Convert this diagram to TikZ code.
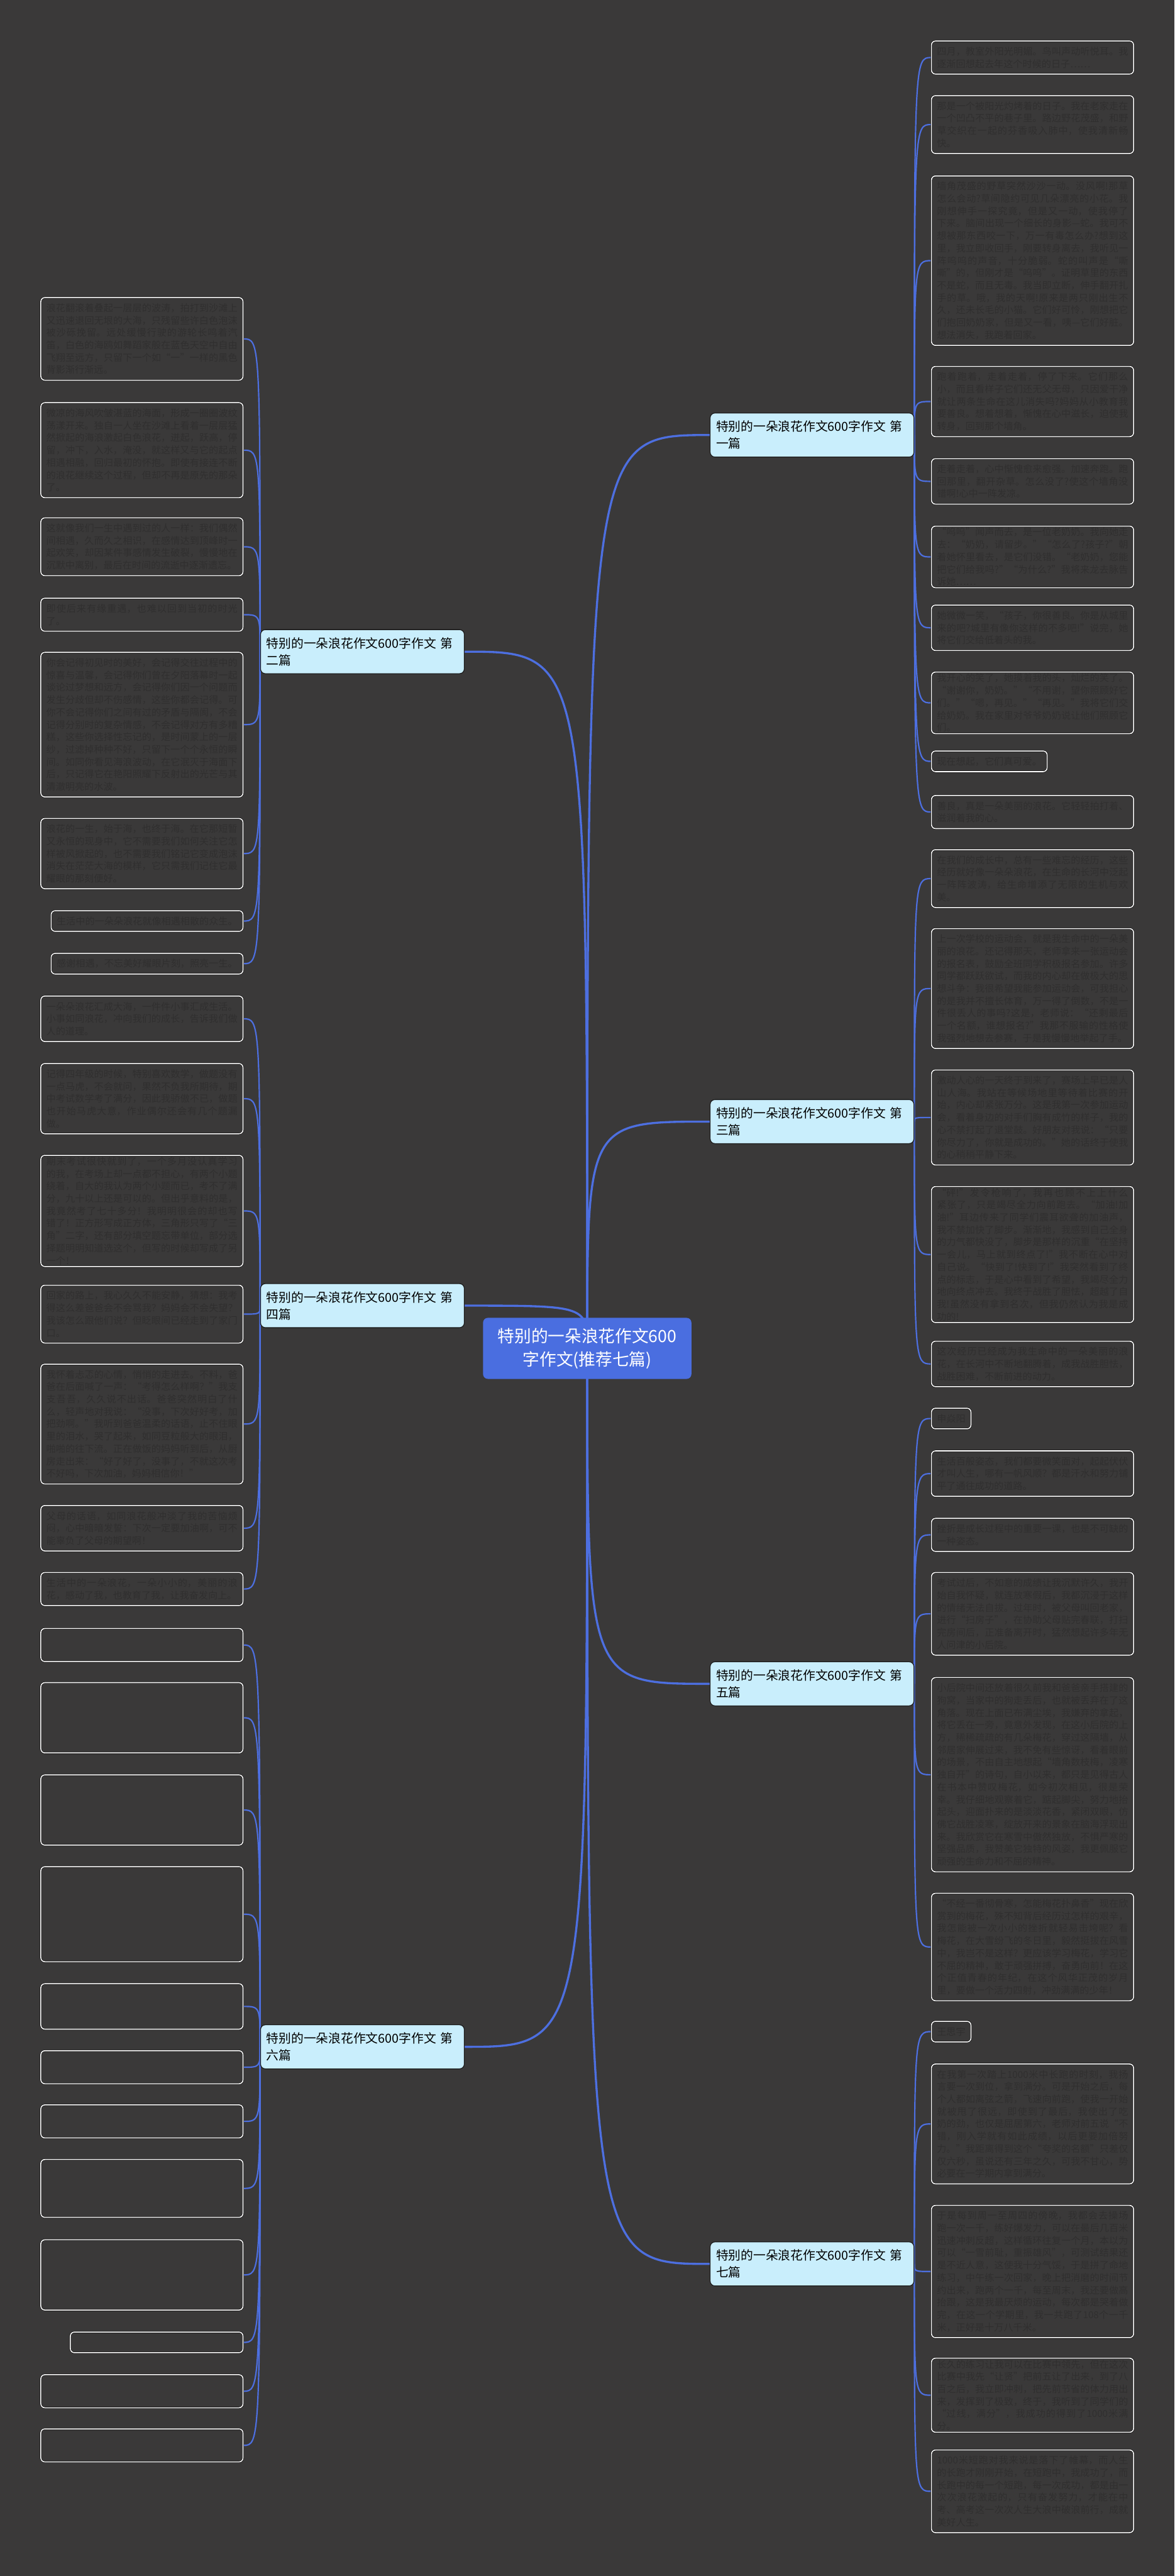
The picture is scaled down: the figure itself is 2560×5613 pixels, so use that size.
\documentclass[tikz,border=0pt]{standalone}
\usepackage{fontspec}
\setmainfont{Noto Sans CJK SC}
\XeTeXlinebreaklocale "zh"
\XeTeXlinebreakskip = 0pt plus 1pt
\usetikzlibrary{backgrounds}
\definecolor{bgDark}{HTML}{3A3939}
\definecolor{rootBlue}{HTML}{4A6EE0}
\definecolor{linkBlue}{HTML}{4D6FE0}
\definecolor{topicCyan}{HTML}{C9EEFC}
\definecolor{topicEdge}{HTML}{1E1E1E}
\definecolor{leafInk}{HTML}{302F2F}

\begin{document}
\begin{tikzpicture}[x=0.01cm,y=-0.01cm]
  \tikzset{
    rootbox/.style={fill=rootBlue,text=white,rounded corners=3pt,minimum width=4.54cm,minimum height=1.33cm,align=center,font=\fontsize{10.4}{14.5}\selectfont},
    topic/.style={fill=topicCyan,draw=topicEdge,line width=0.5pt,rounded corners=3pt,text width=4.18cm,inner xsep=0.13cm,minimum height=0.96cm,align=left,text=black,font=\fontsize{7.7}{10.5}\selectfont},
    leaf/.style={fill=bgDark,draw=black,double=white,double distance=0.6pt,line width=0.2pt,rounded corners=2.5pt,inner xsep=3.4pt,inner ysep=1pt,text=leafInk,font=\fontsize{5.9}{7.68}\selectfont},
    wide/.style={text width=118.5pt,align=justify},
    rows/.style={minimum height={#1*0.27cm+0.18cm}},
    rleaf/.style={leaf,anchor=north west},
    lleaf/.style={leaf,anchor=north east},
    trunk/.style={draw=linkBlue,line width=1.3pt},
    twig/.style={draw=linkBlue,line width=0.85pt}
  }

  % centre and main topics
  \node[rootbox] (root) at (1280,2938) {特别的一朵浪花作文600\\字作文(推荐七篇)};
  \node[topic,anchor=north west] (p1) at (1547,899) {特别的一朵浪花作文600字作文 第\\一篇};
  \node[topic,anchor=north east] (p2) at (1013,1371) {特别的一朵浪花作文600字作文 第\\二篇};
  \node[topic,anchor=north west] (p3) at (1547,2395) {特别的一朵浪花作文600字作文 第\\三篇};
  \node[topic,anchor=north east] (p4) at (1013,2796) {特别的一朵浪花作文600字作文 第\\四篇};
  \node[topic,anchor=north west] (p5) at (1547,3620) {特别的一朵浪花作文600字作文 第\\五篇};
  \node[topic,anchor=north east] (p6) at (1013,4411) {特别的一朵浪花作文600字作文 第\\六篇};
  \node[topic,anchor=north west] (p7) at (1547,4884) {特别的一朵浪花作文600字作文 第\\七篇};

  % first
  \node[rleaf,wide,rows=2] (p1a) at (2030,89) {四月，教室外阳光明媚。鸟叫声动听悦耳。我逐渐回想起去年这个时候的日子……};
  \node[rleaf,wide,rows=4] (p1b) at (2030,208) {那是一个被阳光灼烤着的日子。我在老家走在一个凹凸不平的巷子里。路边野花茂盛，和野草交织在一起的芬香吸入肺中，使我清新畅快。};
  \node[rleaf,wide,rows=13] (p1c) at (2030,383) {墙角茂盛的野草突然沙沙一动。没风啊!那草怎么会动?草间隐约可见几朵漂亮的小花。我刚想伸手一探究竟，但是又一动，使我停了下来。脑间出现一个细长的身影—蛇。我可不想被那东西咬一下，万一有毒怎么办?想到这里，我立即收回手，刚要转身离去，我听见一阵呜呜的声音，十分脆弱。蛇的叫声是“嘶嘶”的，但刚才是“呜呜”。证明草里的东西不是蛇，而且无毒。我当即立断，伸手翻开扎手的草。哦，我的天啊!原来是两只刚出生不久，还未长毛的小猫。它们好可怜，刚想把它们抱回奶奶家，但是又一看，咦—它们好脏。想法消失，我跑着回家。};
  \node[rleaf,wide,rows=5] (p1d) at (2030,798) {跑着跑着，走着走着，停了下来。它们那么小，而且看样子它们还无父无母，只因爱干净就让两条生命在这儿消失吗?妈妈从小教育我要善良。想着想着，惭愧在心中滋长，迫使我转身，回到那个墙角。};
  \node[rleaf,wide,rows=3] (p1e) at (2030,999) {走着走着，心中惭愧愈来愈强。加速奔跑。跑回那里，翻开杂草。怎么没了?使这个墙角没错啊!心中一阵发凉。};
  \node[rleaf,wide,rows=4] (p1f) at (2030,1146) {“呜呜”闻声而去，是一位老奶奶。我向她走去：“奶奶，请留步。”“怎么了?孩子?”朝着她怀里看去，是它们没错。“老奶奶，您能把它们给我吗?”“为什么?”我将来龙去脉告诉她……};
  \node[rleaf,wide,rows=3] (p1g) at (2030,1318) {她微微一笑，“孩子，你很善良。你是从城里来的吧?城里有像你这样的不多吧!”说完，她将它们交给低着头的我。};
  \node[rleaf,wide,rows=4] (p1h) at (2030,1464) {我开心的笑了，她摸着我的头，灿烂的笑了。“谢谢你，奶奶。”“不用谢，望你照顾好它们。”“嗯，再见。”“再见。”我将它们交给奶奶。我在家里对爷爷奶奶说让他们照顾它们。};
  \node[rleaf,rows=1] (p1i) at (2030,1636) {现在想起，它们真可爱。};
  \node[rleaf,wide,rows=2] (p1j) at (2030,1733) {善良，真是一朵美丽的浪花。它轻轻拍打着、滋润着我的心。};

  % third
  \node[rleaf,wide,rows=4] (p3a) at (2030,1851) {在我们的成长中，总有一些难忘的经历，这些经历就好像一朵朵浪花，在生命的长河中泛起一阵阵波涛，给生命增添了无限的生机与欢美。};
  \node[rleaf,wide,rows=9] (p3b) at (2030,2023) {上一次学校的运动会，就是我生命中的一朵美丽的浪花。还记得那天，老师拿来一张运动会的报名表，鼓励全班同学积极报名参加。许多同学都跃跃欲试，而我的内心却在做极大的思想斗争：我很希望我能参加运动会，可我担心的是我并不擅长体育，万一得了倒数，不是一件很丢人的事吗?这是，老师说：“还剩最后一个名额，谁想报名?”我那不服输的性格使我强烈地想去参赛，于是我慢慢地举起了手。};
  \node[rleaf,wide,rows=7] (p3c) at (2030,2331) {激动人心的一天终于到来了，赛场上早已是人山人海。我站在等候场地里等待着比赛的开始，内心却紧张万分。这是我第一次参加运动会，看着身边的对手们胸有成竹的样子，我的心不禁打起了退堂鼓。好朋友对我说：“只要你尽力了，你就是成功的。”她的话终于使我的心稍稍平静下来。};
  \node[rleaf,wide,rows=10] (p3d) at (2030,2585) {“砰!”发令枪响了，我再也顾不上上什么紧张了，只是竭尽全力向前跑去。“加油!加油!”耳边传来了同学们震耳欲聋的加油声，我不禁加快了脚步。渐渐地，我感到自己全身的力气都快没了，脚步是那样的沉重“在坚持一会儿，马上就到终点了!”我不断在心中对自己说。“快到了!快到了!”我突然看到了终点的标志，于是心中看到了希望，我竭尽全力地向终点冲去。我终于战胜了胆怯，超越了自我!虽然没有拿到名次，但我仍然认为我是成功的!};
  \node[rleaf,wide,rows=3] (p3e) at (2030,2922) {这次经历已经成为我生命中的一朵美丽的浪花，在长河中不断地翻腾着，成我战胜胆怯，战胜困难，不断前进的动力。};

  % fifth
  \node[rleaf,rows=1] (p5a) at (2030,3068) {申焱阳};
  \node[rleaf,wide,rows=3] (p5b) at (2030,3161) {生活百般姿态，我们都要微笑面对，起起伏伏才叫人生，哪有一帆风顺？都是汗水和努力铺平了通往成功的道路。};
  \node[rleaf,wide,rows=2] (p5c) at (2030,3308) {挫折是成长过程中的重要一课，也是不可缺的一种姿态。};
  \node[rleaf,wide,rows=6] (p5d) at (2030,3426) {考试过后，不如意的成绩让我沉默许久，我开始自我怀疑，就连放寒假后，我都沉浸于这样的情绪无法自拔。过年时，被父母叫回老家，进行“扫房子”，在协助父母贴完春联，打扫完房间后，正准备离开时，猛然想起许多年无人问津的小后院。};
  \node[rleaf,wide,rows=15] (p5e) at (2030,3655) {小后院中间还放着很久前我和爸爸亲手搭建的狗窝，当家中的狗走丢后，也就被丢弃在了这角落。现在上面已布满尘埃，我嫌弃的拿起，将它丢在一旁，竟意外发现，在这小后院的上方，稀稀疏疏的有几朵梅花，穿过这隔墙，从邻居家伸展过来，我不免有些惊讶，看着眼前的场景，不由自主地想起“墙角数枝梅，凌寒独自开”的诗句，自小以来，都只是见得古人在书本中赞叹梅花，如今初次相见，很是荣幸。我仔细地观察着它，踮起脚尖，努力地抬起头，迎面扑来的是淡淡花香，紧闭双眼，仿佛它战胜凌寒，绽放开来的景象在脑海浮现出来。我欣赏它在寒雪中傲然独放，不惧严寒的坚强品质，我赞美它独特的风姿，我更佩服它顽强的生命力和不屈的精神。};
  \node[rleaf,wide,rows=8] (p5f) at (2030,4125) {“不经一番彻骨寒，怎能梅花扑鼻香”现在欣赏到的梅花，殊不知背后经历过怎样的艰辛，我怎能被一次小小的挫折就轻易击垮呢？看梅花，在大雪纷飞的冬日里，毅然挺拔在风雪中，我岂不是这样？更应该学习梅花，学习它不屈的精神，敢于顽强拼搏，奋勇向前！在这个正值青春的年纪，在这个风华正茂的岁月里，要做一个活力四射，冲劲满满的少年！};

  % seventh
  \node[rleaf,rows=1] (p7a) at (2030,4404) {王思宇};
  \node[rleaf,wide,rows=9] (p7b) at (2030,4497) {在我第一次踏上1000米中长跑的时刻，我扬言要一次到位，拿到满分。可是开始之后，每个人都如离弦之箭，飞速向前跑，使我一开始就被甩了很远，即使到了最后，我使出了吃奶的劲，也仅是屈居第六，老师对前五说“不错，刚入学就有如此成绩，以后更要加倍努力。”我距离得到这个“夸奖的名额”只差仅仅六秒，虽说还有三年之久，可我不甘心，势必要在一学期内拿到满分。};
  \node[rleaf,wide,rows=10] (p7c) at (2030,4805) {于是每到周一至周四的傍晚，我都会去操场跑一次一千，练好爆发力，可以在最后几百米迅速冲刺反超，这样循环往复一个月，本以为可以“一雪前耻，重振雄风”，可测试结果还是不近人意，这使我十分气馁，于是拼了命地练习，中午练一次回家，晚上把消磨的时间节约出来，跑两个一千，每至周末，我还要做高抬跟，这是我最厌烦的运动，每次都是哭着做完，在这一个学期里，我一共跑了108个一千米，正好是十万八千米。};
  \node[rleaf,wide,rows=5] (p7d) at (2030,5138) {长久的练习让我可以在比赛中领先，但在这次比赛中我先“让贤”把前五让了出来，到了八百之后，我立即冲刺，把先前节省的体力用出来，发挥到了极致，终于，我听到了同学们的“过线，满分”，我成功的得到了1000米满分。};
  \node[rleaf,wide,rows=6] (p7e) at (2030,5338) {1000米短跑对我来说是落下了帷幕，而人生的长跑才刚刚开始，在短跑中，我成功了，而长跑中的每一个短跑，每一次成功，都是由一次次浪花激起的，只有奋发努力，才能在中考、高考这一次次人生大浪中破浪前行，成就美好人生。};

  % second
  \node[lleaf,wide,rows=6] (p2a) at (530,648) {浪花翻滚着叠起一层层的波涛，拍打到沙滩上又迅速退回无垠的大海，只残留些许白色泡沫被沙砾挽留。远处缓慢行驶的游轮长鸣着汽笛，白色的海鸥如舞蹈家般在蓝色天空中自由飞翔至远方，只留下一个如“一”一样的黑色背影渐行渐远。};
  \node[lleaf,wide,rows=7] (p2b) at (530,877) {微凉的海风吹皱湛蓝的海面，形成一圈圈波纹荡漾开来。独自一人坐在沙滩上看着一层层猛然掀起的海浪激起白色浪花，迸起，跃高，停留，冲下，入水，淹没，就这样又与它的起点相遇相融，回归最初的怀抱。即使有接连不断的浪花继续这个过程，但却不再是原先的那朵了。};
  \node[lleaf,wide,rows=4] (p2c) at (530,1128) {这就像我们一生中遇到过的人一样：我们偶然间相遇，久而久之相识，在感情达到顶峰时一起欢笑，却因某件事感情发生破裂，慢慢地在沉默中离别，最后在时间的流逝中逐渐遗忘。};
  \node[lleaf,wide,rows=2] (p2d) at (530,1303) {即使后来有缘重遇，也难以回到当初的时光了。};
  \node[lleaf,wide,rows=11] (p2e) at (530,1421) {你会记得初见时的美好，会记得交往过程中的惊喜与温馨，会记得你们曾在夕阳落幕时一起谈论过梦想和远方，会记得你们因一个问题而发生分歧但却不伤感情，这些你都会记得。可你不会记得你们之间有过的矛盾与隔阂，不会记得分别时的复杂情感，不会记得对方有多糟糕，这些你选择性忘记的，是时间蒙上的一层纱，过滤掉种种不好，只留下一个个永恒的瞬间。如同你看见海浪波动，在它泯灭于海面下后，只记得它在艳阳照耀下反射出的光芒与其清澈明亮的水波。};
  \node[lleaf,wide,rows=5] (p2f) at (530,1783) {浪花的一生，始于海，也终于海。在它那短暂又永恒的现身中，它不需要我们如何关注它怎样被风掀起的，也不需要我们铭记它变成泡沫消失在茫茫大海的模样，它只需我们记住它最耀眼的那刻便好。};
  \node[lleaf,rows=1] (p2g) at (530,1984) {生活中的一朵朵浪花就像相遇相散的众生。};
  \node[lleaf,rows=1] (p2h) at (530,2077) {感谢相遇，不忘美好耀眼片刻，照亮一生。};

  % fourth
  \node[lleaf,wide,rows=3] (p4a) at (530,2170) {一朵朵浪花汇成大海，一件件小事汇成生活。小事如同浪花，冲向我们的成长，告诉我们做人的道理。};
  \node[lleaf,wide,rows=5] (p4b) at (530,2317) {记得四年级的时候，特别喜欢数学，做题没有一点马虎，不会就问，果然不负我所期待，期中考试数学考了满分，因此我骄傲不已，做题也开始马虎大意，作业偶尔还会有几个题漏做。};
  \node[lleaf,wide,rows=8] (p4c) at (530,2517) {期末考试很快就到了，一个多月没认真学习的我，在考场上却一点都不担心，有两个小题绕着，自大的我认为两个小题而已，考不了满分，九十以上还是可以的。但出乎意料的是，我竟然考了七十多分！我明明很会的却也写错了！正方形写成正方体，三角形只写了“三角”二字，还有部分填空题忘带单位，部分选择题明明知道选这个，但写的时候却写成了另一个！};
  \node[lleaf,wide,rows=4] (p4d) at (530,2800) {回家的路上，我心久久不能安静，猜想：我考得这么差爸爸会不会骂我？妈妈会不会失望？我该怎么跟他们说？但眨眼间已经走到了家门口。};
  \node[lleaf,wide,rows=9] (p4e) at (530,2972) {我怀着忐忑的心情，悄悄的走进去。不料，爸爸在后面喊了一声：“考得怎么样啊？”我支支吾吾，久久说不出话。爸爸突然明白了什么，轻声地对我说：“没事，下次好好考，加把劲啊。”我听到爸爸温柔的话语，止不住眼里的泪水，哭了起来，如同豆粒般大的眼泪，啪啪的往下流。正在做饭的妈妈听到后，从厨房走出来：“好了好了，没事了，不就这次考不好吗，下次加油，妈妈相信你！”};
  \node[lleaf,wide,rows=3] (p4f) at (530,3280) {父母的话语，如同浪花般冲淡了我的苦恼烦闷，心中暗暗发誓：下次一定要加油啊，可不能辜负了父母的期望啊！};
  \node[lleaf,wide,rows=2] (p4g) at (530,3426) {生活中的一朵浪花，一朵小小的，美丽的浪花，感动了我，也教育了我，让我奋发向上。};

  % sixth
  \node[lleaf,wide,rows=2] (p6a) at (530,3548) {};
  \node[lleaf,wide,rows=5] (p6b) at (530,3666) {};
  \node[lleaf,wide,rows=5] (p6c) at (530,3867) {};
  \node[lleaf,wide,rows=7] (p6d) at (530,4067) {};
  \node[lleaf,wide,rows=3] (p6e) at (530,4322) {};
  \node[lleaf,wide,rows=2] (p6f) at (530,4468) {};
  \node[lleaf,wide,rows=2] (p6g) at (530,4586) {};
  \node[lleaf,wide,rows=4] (p6h) at (530,4705) {};
  \node[lleaf,wide,rows=5] (p6i) at (530,4880) {};
  \node[lleaf,rows=1,minimum width=3.76cm] (p6j) at (530,5081) {};
  \node[lleaf,wide,rows=2] (p6k) at (530,5174) {};
  \node[lleaf,wide,rows=2] (p6l) at (530,5292) {};

  \begin{scope}[on background layer]
    \fill[bgDark] (0,0) rectangle (2560,5613);
    \foreach \p in {p1,p3,p5,p7}
      \draw[trunk] (root.center) .. controls (root.center |- \p.west) .. (\p.west);
    \foreach \p in {p2,p4,p6}
      \draw[trunk] (root.center) .. controls (root.center |- \p.east) .. (\p.east);
    \foreach \p/\l in {p1/p1a,p1/p1b,p1/p1c,p1/p1d,p1/p1e,p1/p1f,p1/p1g,p1/p1h,p1/p1i,p1/p1j,
                       p3/p3a,p3/p3b,p3/p3c,p3/p3d,p3/p3e,
                       p5/p5a,p5/p5b,p5/p5c,p5/p5d,p5/p5e,p5/p5f,
                       p7/p7a,p7/p7b,p7/p7c,p7/p7d,p7/p7e}
      \draw[twig] (\p.east) .. controls (\p.east |- \l.west) .. (\l.west);
    \foreach \p/\l in {p2/p2a,p2/p2b,p2/p2c,p2/p2d,p2/p2e,p2/p2f,p2/p2g,p2/p2h,
                       p4/p4a,p4/p4b,p4/p4c,p4/p4d,p4/p4e,p4/p4f,p4/p4g,
                       p6/p6a,p6/p6b,p6/p6c,p6/p6d,p6/p6e,p6/p6f,p6/p6g,p6/p6h,p6/p6i,p6/p6j,p6/p6k,p6/p6l}
      \draw[twig] (\p.west) .. controls (\p.west |- \l.east) .. (\l.east);
  \end{scope}
\end{tikzpicture}
\end{document}
